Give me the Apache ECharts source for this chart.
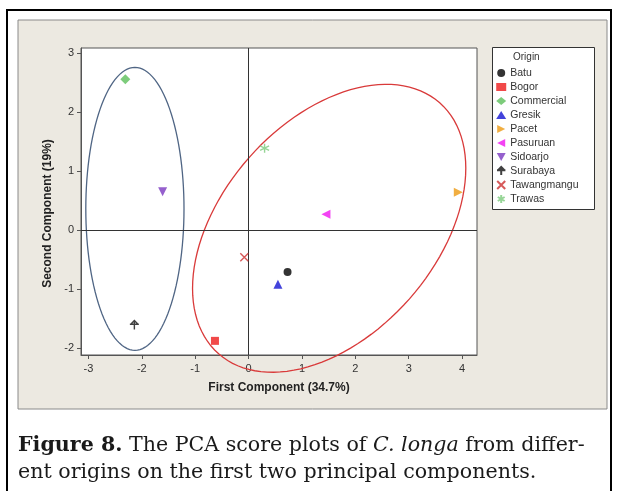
<!DOCTYPE html>
<html>
<head>
<meta charset="utf-8">
<script src="https://cdn.jsdelivr.net/npm/echarts@6/dist/echarts.min.js"></script>
<style>html,body{margin:0;padding:0;background:#fff;}#c{width:617px;height:491px;}</style>
</head>
<body>
<div id="c"></div>
<script>
// ---- data ----
const origins = ['Batu','Bogor','Commercial','Gresik','Pacet','Pasuruan','Sidoarjo','Surabaya','Tawangmangu','Trawas'];
const firstComponent  = [0.73, -0.63, -2.31, 0.55, 3.93, 1.45, -1.61, -2.14, -0.08, 0.30];
const secondComponent = [-0.71, -1.88, 2.56, -0.92, 0.64, 0.27, 0.65, -1.61, -0.46, 1.39];
const xTicks = [-3, -2, -1, 0, 1, 2, 3, 4];
const yTicks = [-2, -1, 0, 1, 2, 3];
// grouping ellipses: centre and two conjugate semi-axis vectors (data units)
const ellipseCx = [-2.13, 1.51];
const ellipseCy = [0.36, 0.03];
const ellipseAx = [0.92, 2.56];
const ellipseAy = [0.00, 1.02];
const ellipseBx = [0.00, 0.00];
const ellipseBy = [2.40, 2.22];

// ---- styles ----
const colors = ['#000000','#EE1C1C','#5CBF5A','#1414D2','#EE9A12','#F014F0','#7A38C0','#111111','#CC3030','#7CCB7C'];
const ellipseColors = ['#4F6584','#D93A3A'];
const symbols = ['circle','rect','diamond','triangle',
  'path://M0,0L10,5L0,10Z','path://M10,0L0,5L10,10Z','path://M0,0L10,0L5,9Z',
  'path://M0,4.5L10,4.5M5,1L5,10M1.5,4L5,0.5L8.5,4',
  'path://M0,0L10,10M10,0L0,10',
  'path://M5,0L5,10M0.7,2.5L9.3,7.5M0.7,7.5L9.3,2.5'];
const symbolSizes = [8, 8, 10, 9, 9, 9, 9, 9, 8, 9];
const strokeOnly = [false,false,false,false,false,false,false,true,true,true];

const chart = echarts.init(document.getElementById('c'), null, {renderer:'canvas'});

const series = origins.map((name, i) => ({
  name: name,
  type: 'scatter',
  data: [[firstComponent[i], secondComponent[i]]],
  symbol: symbols[i],
  symbolSize: symbolSizes[i],
  z: 5,
  itemStyle: strokeOnly[i]
    ? {color: 'rgba(0,0,0,0)', borderColor: colors[i], borderWidth: 1.4}
    : {color: colors[i]}
}));

series.push({
  type: 'custom',
  name: 'ellipses',
  silent: true,
  z: 3,
  data: ellipseCx.map((c, i) => [c, ellipseCy[i], ellipseAx[i], ellipseAy[i], ellipseBx[i], ellipseBy[i], i]),
  renderItem: function (params, api) {
    const cx = api.value(0), cy = api.value(1), ax = api.value(2), ay = api.value(3), bx = api.value(4), by = api.value(5);
    const idx = api.value(6);
    const pts = [];
    const n = 120;
    for (let k = 0; k < n; k++) {
      const t = 2 * Math.PI * k / n;
      pts.push(api.coord([cx + ax * Math.cos(t) + bx * Math.sin(t), cy + ay * Math.cos(t) + by * Math.sin(t)]));
    }
    return {type: 'polygon', shape: {points: pts}, style: {fill: 'none', stroke: ellipseColors[idx], lineWidth: 1.3}};
  },
  markLine: {
    silent: true,
    symbol: ['none','none'],
    label: {show: false},
    lineStyle: {color: '#333', width: 1, type: 'solid'},
    data: [{xAxis: 0}, {yAxis: 0}]
  }
});

const tickFont = {color: '#333', fontSize: 11, fontFamily: 'Liberation Sans'};
const capFont = {fontSize: 20.6, fontFamily: 'DejaVu Serif', lineHeight: 27, fill: '#1a1a1a'};

const option = {
  animation: false,
  backgroundColor: '#fff',
  graphic: [
    {type: 'rect', z: -20, shape: {x: 7, y: 10, width: 604, height: 495}, style: {fill: '#fff', stroke: '#000', lineWidth: 2}},
    {type: 'rect', z: -10, shape: {x: 18, y: 20, width: 589, height: 389}, style: {fill: '#ECE9E1', stroke: '#8a8a8a', lineWidth: 1}},
    {type: 'rect', z: 1, shape: {x: 492.5, y: 47.5, width: 102, height: 162}, style: {fill: '#fff', stroke: '#333', lineWidth: 1}},
    {type: 'text', z: 2, x: 513, y: 52, style: {text: 'Origin', fontSize: 10, fontFamily: 'Liberation Sans', fill: '#333'}},
    {type: 'text', z: 2, x: 18, y: 432, style: Object.assign({
      text: '{b|Figure 8.}{n| The PCA score plots of }{i|C. longa}{n| from differ-}\n{n|ent origins on the first two principal components.}',
      rich: {
        b: Object.assign({fontWeight: 'bold'}, capFont),
        n: Object.assign({}, capFont),
        i: Object.assign({fontStyle: 'italic'}, capFont)
      }
    }, capFont)}
  ],
  legend: {
    data: origins,
    orient: 'vertical',
    left: 496,
    top: 66,
    padding: 0,
    itemGap: 0,
    itemWidth: 10,
    itemHeight: 8,
    selectedMode: false,
    textStyle: {color: '#333', fontSize: 10.5, fontFamily: 'Liberation Sans', lineHeight: 14, padding: [0,0,0,-1]},
    z: 4
  },
  grid: {
    left: 81, top: 48, right: 140, bottom: 136,
    show: true, backgroundColor: '#fff', borderColor: '#555', borderWidth: 1,
    containLabel: false
  },
  xAxis: {
    type: 'value',
    min: -3.14, max: 4.28,
    splitLine: {show: false},
    axisLine: {show: true, onZero: false, lineStyle: {color: '#555'}},
    axisTick: {show: true, length: 4, lineStyle: {color: '#555'}, customValues: xTicks},
    axisLabel: Object.assign({margin: 8, customValues: xTicks, formatter: v => String(v)}, tickFont),
    name: 'First Component (34.7%)',
    nameLocation: 'middle',
    nameGap: 27,
    nameTextStyle: {color: '#222', fontSize: 12, fontWeight: 'bold', fontFamily: 'Liberation Sans'}
  },
  yAxis: {
    type: 'value',
    min: -2.12, max: 3.09,
    splitLine: {show: false},
    axisLine: {show: true, onZero: false, lineStyle: {color: '#555'}},
    axisTick: {show: true, length: 4, lineStyle: {color: '#555'}, customValues: yTicks},
    axisLabel: Object.assign({margin: 7, customValues: yTicks, formatter: v => String(v)}, tickFont),
    name: 'Second Component (19%)',
    nameLocation: 'middle',
    nameGap: 25,
    nameTextStyle: {color: '#222', fontSize: 12, fontWeight: 'bold', fontFamily: 'Liberation Sans', padding: [0, 24, 0, 0]}
  },
  series: series
};
chart.setOption(option);
</script>
</body>
</html>
